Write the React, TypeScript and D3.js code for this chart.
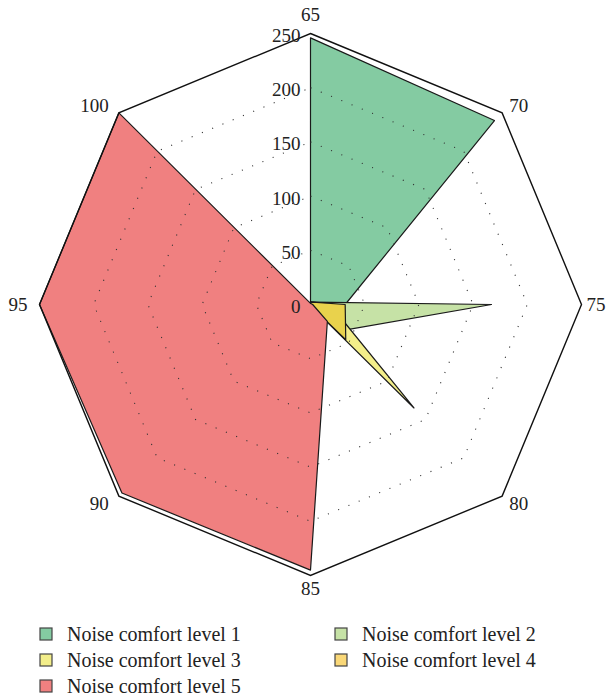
import React from "react";
import * as d3 from "d3";

const axes = ["65", "70", "75", "80", "85", "90", "95", "100"];
const ticks = [0, 50, 100, 150, 200, 250];
const gridLevels = [50, 100, 150, 200];
const seriesNames = [
  "Noise comfort level 1",
  "Noise comfort level 2",
  "Noise comfort level 3",
  "Noise comfort level 4",
  "Noise comfort level 5",
];
const level1 = [246, 240, 32, 1, 1, 0, 0, 0];
const level2 = [2, 3, 167, 35, 1, 1, 0, 0];
const level3 = [3, 3, 18, 135, 1, 1, 0, 0];
const level4 = [2, 3, 32, 46, 1, 0, 0, 0];
const level5 = [1, 1, 2, 22, 245, 246, 250, 250];
const seriesValues = [level1, level2, level3, level4, level5];
const colors = ["#84CBA2", "#C6E2A6", "#F3EE8A", "#FAD878", "#F08080"];
const centerTint = "#E9D24C";

const W = 606;
const H = 699;
const cx = 310.5;
const cy = 304.5;
const R = 271;
const FONT = "'Liberation Serif', 'DejaVu Serif', serif";

export default function App() {
  const r = d3.scaleLinear().domain([0, 250]).range([0, R]);
  const step = (2 * Math.PI) / axes.length;
  const ang = (i: number) => i * step;
  const pt = (i: number, v: number): [number, number] => [
    cx + r(v) * Math.sin(ang(i)),
    cy - r(v) * Math.cos(ang(i)),
  ];
  const line = d3.line<[number, number]>().curve(d3.curveLinearClosed);
  const ring = (v: number) => line(axes.map((_, i) => pt(i, v))) || "";

  return (
    <svg
      width={W}
      height={H}
      style={{ position: "absolute", left: 0, top: 0, background: "#fff" }}
      fontFamily={FONT}
    >
      {seriesValues.map((vals, s) => (
        <path
          key={s}
          d={line(vals.map((v, i) => pt(i, v))) || ""}
          fill={s === 3 ? centerTint : colors[s]}
          stroke="#1a1a1a"
          strokeWidth={1.2}
          strokeLinejoin="round"
        />
      ))}
      {gridLevels.map((g) => (
        <path
          key={g}
          d={ring(g)}
          fill="none"
          stroke="#333"
          strokeWidth={1.1}
          strokeDasharray="1.1 10"
        />
      ))}
      <path d={ring(250)} fill="none" stroke="#111" strokeWidth={1.4} />
      {ticks.map((t) => (
        <text
          key={t}
          x={cx - 10}
          y={cy - r(t) + 2}
          textAnchor="end"
          dominantBaseline="central"
          fontSize={19}
          fill="#222"
        >
          {t}
        </text>
      ))}
      {axes.map((a, i) => {
        const [vx, vy] = pt(i, 250);
        const s = Math.sin(ang(i));
        const c = Math.cos(ang(i));
        let x = vx;
        let anchor = "middle";
        if (s > 0.1) {
          x = vx + (s > 0.9 ? 5 : 7);
          anchor = "start";
        } else if (s < -0.1) {
          x = vx - (s < -0.9 ? 12 : 10);
          anchor = "end";
        }
        const y = vy + (c > 0.9 ? -19 : c < -0.9 ? 13 : -c * 11);
        return (
          <text
            key={a}
            x={x}
            y={y}
            textAnchor={anchor}
            dominantBaseline="central"
            fontSize={19}
            fill="#222"
          >
            {a}
          </text>
        );
      })}
      {seriesNames.map((name, i) => {
        const col = i % 2;
        const row = Math.floor(i / 2);
        const mx = col === 0 ? 40 : 335;
        const my = 634 + row * 26;
        return (
          <g key={name}>
            <rect
              x={mx}
              y={my - 6}
              width={12}
              height={12}
              fill={colors[i]}
              stroke="#444"
              strokeWidth={1.2}
            />
            <text
              x={mx + 27}
              y={my}
              dominantBaseline="central"
              fontSize={20}
              fill="#222"
            >
              {name}
            </text>
          </g>
        );
      })}
    </svg>
  );
}
